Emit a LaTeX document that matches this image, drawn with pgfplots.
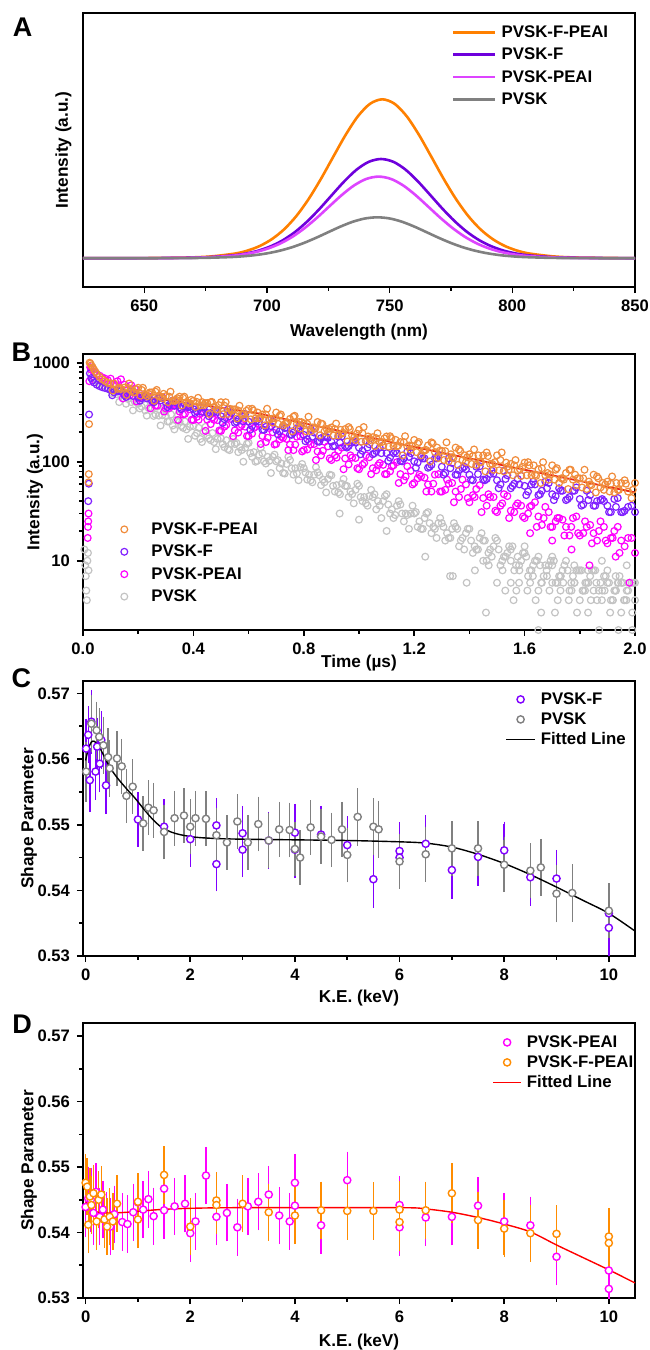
\documentclass[border=0pt]{standalone}
\usepackage{fontspec}
\setmainfont{Liberation Sans}
\usepackage{pgfplots}
\pgfplotsset{compat=1.18}
\definecolor{aOr}{RGB}{255,128,0}
\definecolor{aPu}{RGB}{110,0,220}
\definecolor{aMa}{RGB}{221,68,255}
\definecolor{aGr}{RGB}{128,128,128}
\definecolor{bOr}{RGB}{240,140,60}
\definecolor{bPu}{RGB}{128,32,255}
\definecolor{bMa}{RGB}{255,0,255}
\definecolor{bGr}{RGB}{195,195,195}
\definecolor{bFit}{RGB}{235,40,20}
\definecolor{cPu}{RGB}{128,0,255}
\definecolor{cGr}{RGB}{128,128,128}
\definecolor{dMa}{RGB}{255,0,255}
\definecolor{dOr}{RGB}{255,140,0}
\pgfplotsset{
  base/.style={
    scale only axis, anchor=north west,
    axis line style={line width=1pt},
    tick align=outside, tick pos=left,
    major tick length=3pt, minor tick length=1.8pt,
    tick style={line width=0.8pt, black},
    tick label style={font=\fontsize{8.3}{10}\selectfont\bfseries},
    label style={font=\fontsize{8.6}{10}\selectfont\bfseries},
    /pgf/number format/assume math mode=true,
    /pgf/number format/1000 sep={},
    xlabel style={anchor=center},
    ylabel style={anchor=center},
    legend cell align=left,
    legend style={draw=none, fill=none, inner sep=0pt, column sep=2.5pt,
      font=\fontsize{8.4}{10}\selectfont\bfseries,
      nodes={inner sep=0pt, text height=6.5pt, text depth=1.5pt}},
  }
}
\begin{document}
\begin{tikzpicture}
\path[use as bounding box] (0,0) rectangle (324.5pt,-675pt);
\node[font=\fontsize{13.5}{14}\selectfont\bfseries] at (11.25pt,-13.5pt) {A};
\node[font=\fontsize{13.5}{14}\selectfont\bfseries] at (10.75pt,-176pt) {B};
\node[font=\fontsize{13.5}{14}\selectfont\bfseries] at (10.75pt,-339pt) {C};
\node[font=\fontsize{13.5}{14}\selectfont\bfseries] at (11pt,-512pt) {D};

% ---------------- Panel A ----------------
\begin{axis}[base, at={(41.5pt,-6.5pt)}, width=276pt, height=137pt,
  xmin=625, xmax=850, ymin=-0.287, ymax=2.453,
  xtick={650,700,750,800,850}, minor x tick num=1, ytick=\empty,
  xlabel={Wavelength (nm)}, ylabel={Intensity (a.u.)},
  xlabel style={at={(axis description cs:0.5,-0.1642)}},
  ylabel style={at={(axis description cs:-0.0353,0.5)}},
  legend image code/.code={\draw[#1] (0pt,0pt) -- (21pt,0pt);},
  legend style={at={(axis description cs:0.668,0.96)}, anchor=north west, row sep=3.2pt},
]
\addplot[aOr, line width=1.3pt, smooth] coordinates {(625,0.0003) (627,0.0005) (647,0.0016) (667,0.0076) (677,0.0184) (687,0.0477) (692,0.0768) (697,0.1226) (702,0.1919) (707,0.2902) (712,0.4236) (717,0.5939) (722,0.795) (727,1.0151) (732,1.2321) (737,1.4186) (742,1.5452) (747,1.59) (752,1.5452) (757,1.4186) (762,1.2321) (767,1.0151) (772,0.795) (777,0.5939) (782,0.4236) (787,0.2902) (792,0.1919) (797,0.1226) (802,0.0768) (807,0.0477) (817,0.0184) (827,0.0076) (847,0.0016) (850,0.0012)};
\addlegendentry{PVSK-F-PEAI}
\addplot[aPu, line width=1.3pt, smooth] coordinates {(625,0.0002) (626.5,0.0003) (646.5,0.001) (666.5,0.0048) (676.5,0.0115) (686.5,0.0298) (691.5,0.048) (696.5,0.0766) (701.5,0.1199) (706.5,0.1812) (711.5,0.2645) (716.5,0.3709) (721.5,0.4965) (726.5,0.6339) (731.5,0.7695) (736.5,0.886) (741.5,0.965) (746.5,0.993) (751.5,0.965) (756.5,0.886) (761.5,0.7695) (766.5,0.6339) (771.5,0.4965) (776.5,0.3709) (781.5,0.2645) (786.5,0.1812) (791.5,0.1199) (796.5,0.0766) (801.5,0.048) (806.5,0.0298) (816.5,0.0115) (826.5,0.0048) (846.5,0.001) (850,0.0008)};
\addlegendentry{PVSK-F}
\addplot[aMa, line width=1.3pt, smooth] coordinates {(625,0.0002) (645.5,0.0008) (665.5,0.0039) (675.5,0.0095) (685.5,0.0245) (690.5,0.0395) (695.5,0.063) (700.5,0.0986) (705.5,0.1491) (710.5,0.2176) (715.5,0.3051) (720.5,0.4085) (725.5,0.5216) (730.5,0.6331) (735.5,0.7289) (740.5,0.794) (745.5,0.817) (750.5,0.794) (755.5,0.7289) (760.5,0.6331) (765.5,0.5216) (770.5,0.4085) (775.5,0.3051) (780.5,0.2176) (785.5,0.1491) (790.5,0.0986) (795.5,0.063) (800.5,0.0395) (805.5,0.0245) (815.5,0.0095) (825.5,0.0039) (845.5,0.0008) (850,0.0006)};
\addlegendentry{PVSK-PEAI}
\addplot[aGr, line width=1.3pt, smooth] coordinates {(625,0.0001) (645,0.0004) (665,0.002) (675,0.0048) (685,0.0123) (690,0.0198) (695,0.0316) (700,0.0495) (705,0.0748) (710,0.1092) (715,0.1531) (720,0.205) (725,0.2617) (730,0.3177) (735,0.3658) (740,0.3984) (745,0.41) (750,0.3984) (755,0.3658) (760,0.3177) (765,0.2617) (770,0.205) (775,0.1531) (780,0.1092) (785,0.0748) (790,0.0495) (795,0.0316) (800,0.0198) (805,0.0123) (815,0.0048) (825,0.002) (845,0.0004) (850,0.0003)};
\addlegendentry{PVSK}
\end{axis}

% ---------------- Panel B ----------------
\begin{axis}[base, at={(41.5pt,-177pt)}, width=276pt, height=138pt,
  ymode=log, xmin=0, xmax=2.0, ymin=2, ymax=1224,
  xtick={0,0.4,0.8,1.2,1.6,2.0}, minor x tick num=1,
  ytick={10,100,1000}, log ticks with fixed point,
  xticklabel style={/pgf/number format/.cd, fixed, fixed zerofill, precision=1},
  xlabel={Time (\textmu s)}, ylabel={Intensity (a.u.)},
  xlabel style={at={(axis description cs:0.5,-0.1196)}},
  ylabel style={at={(axis description cs:-0.087,0.5)}},
  legend image code/.code={\path[draw=none] (0pt,0pt) -- (10pt,0pt); \draw[#1, draw=none] plot coordinates {(5pt,0pt)};},
  legend style={at={(axis description cs:0.056,0.395)}, anchor=north west, row sep=3.2pt, column sep=8.5pt},
  every axis plot/.append style={only marks, mark=o, mark size=1.7pt, mark options={line width=0.6pt}},
]
\addlegendimage{only marks, mark=o, mark size=1.7pt, mark options={draw=bOr, line width=0.6pt}}
\addlegendentry{PVSK-F-PEAI}
\addlegendimage{only marks, mark=o, mark size=1.7pt, mark options={draw=bPu, line width=0.6pt}}
\addlegendentry{PVSK-F}
\addlegendimage{only marks, mark=o, mark size=1.7pt, mark options={draw=bMa, line width=0.6pt}}
\addlegendentry{PVSK-PEAI}
\addlegendimage{only marks, mark=o, mark size=1.7pt, mark options={draw=bGr, line width=0.6pt}}
\addlegendentry{PVSK}
% PVSK (gray)
\addplot[bGr, forget plot] coordinates {(0.005,13) (0.008,9) (0.01,7) (0.012,5) (0.014,4) (0.016,10) (0.018,12) (0.02,8) (0.03,760) (0.04,690) (0.05,650) (0.06,620) (0.075,590) (0.09,560)
(0.100,580) (0.125,478) (0.150,491) (0.175,400) (0.200,385) (0.225,330) (0.250,345) (0.275,292) (0.300,290) (0.325,232) (0.350,255) (0.375,212) (0.400,230) (0.425,170) (0.450,183) (0.475,158) (0.500,172) (0.525,134) (0.550,151) (0.575,131) (0.600,155) (0.625,100) (0.650,122) (0.675,102) (0.700,101) (0.725,77) (0.750,104) (0.775,76) (0.800,86) (0.825,65) (0.850,78) (0.875,62) (0.900,73) (0.925,49) (0.950,57) (0.975,47) (1.000,57) (1.025,38) (1.050,44) (1.075,36) (1.100,47) (1.125,27) (1.150,37) (1.175,29) (1.200,30) (1.225,21) (1.250,31) (1.275,21) (1.300,24) (1.325,17) (1.350,22) (1.375,17) (1.400,21) (1.425,13) (1.450,16) (1.475,13) (1.500,16) (1.525,11) (1.550,13) (1.575,11) (1.600,14) (1.625,8) (1.650,11) (1.675,9) (1.700,9) (1.725,7) (1.750,10) (1.775,7) (1.800,8) (1.825,6) (1.850,8) (1.875,6) (1.900,8) (1.925,5) (1.950,6) (1.975,5) (2.000,6)
(0.1125,505) (0.1375,470) (0.1625,430) (0.1875,405) (0.2125,360) (0.2375,350) (0.2625,300) (0.2875,295) (0.3125,255) (0.3375,262) (0.3625,220) (0.3875,225) (0.4125,195) (0.4375,200) (0.4625,165) (0.4875,170) (0.5125,140) (0.5375,152) (0.5625,125) (0.5875,138) (0.6125,112) (0.6375,118) (0.6625,96) (0.6875,112) (0.7125,86) (0.7375,95) (0.7625,74) (0.7875,88) (0.8125,66) (0.8375,74) (0.8625,58) (0.8875,67) (0.9125,50) (0.9375,60) (0.9625,44) (0.9875,52) (1.0125,40) (1.0375,45) (1.0625,33) (1.0875,40) (1.1125,30) (1.1375,36) (1.1625,25) (1.1875,30) (1.2125,22) (1.2375,27) (1.2625,19) (1.2875,24) (1.3125,16) (1.3375,21) (1.3625,14) (1.3875,19) (1.4125,12) (1.4375,17) (1.4625,10) (1.4875,14) (1.5125,9) (1.5375,12) (1.5625,8) (1.5875,10) (1.6125,7) (1.6375,10) (1.6625,6) (1.6875,9) (1.7125,6) (1.7375,8) (1.7625,5) (1.7875,8) (1.8125,5) (1.8375,7) (1.8625,4) (1.8875,7) (1.9125,4) (1.9375,6) (1.9625,4) (1.9875,6)
(0.106,491) (0.131,400) (0.156,385) (0.181,330) (0.206,345) (0.231,292) (0.256,290) (0.281,232) (0.306,255) (0.331,212) (0.356,230) (0.381,170) (0.406,183) (0.431,158) (0.456,172) (0.481,134) (0.506,151) (0.531,131) (0.556,155) (0.581,100) (0.606,122) (0.631,102) (0.656,101) (0.681,77) (0.706,104) (0.731,76) (0.756,86) (0.781,65) (0.806,78) (0.831,62) (0.856,73) (0.881,49) (0.906,57) (0.931,47) (0.956,57) (0.981,38) (1.006,44) (1.031,36) (1.056,47) (1.081,27) (1.106,37) (1.131,29) (1.156,30) (1.181,21) (1.206,31) (1.231,21) (1.256,24) (1.281,17) (1.306,22) (1.331,17) (1.356,21) (1.381,13) (1.406,16) (1.431,13) (1.456,16) (1.481,11) (1.506,13) (1.531,11) (1.556,14) (1.581,8) (1.606,11) (1.631,9) (1.656,9) (1.681,7) (1.706,10) (1.731,7) (1.756,8) (1.781,6) (1.806,8) (1.831,6) (1.856,8) (1.881,5) (1.906,6) (1.931,5) (1.956,6)
(0.169,505) (0.194,470) (0.219,430) (0.244,405) (0.269,360) (0.294,350) (0.319,300) (0.344,295) (0.369,255) (0.394,262) (0.419,220) (0.444,225) (0.469,195) (0.494,200) (0.519,165) (0.544,170) (0.569,140) (0.594,152) (0.619,125) (0.644,138) (0.669,112) (0.694,118) (0.719,96) (0.744,112) (0.769,86) (0.794,95) (0.819,74) (0.844,88) (0.869,66) (0.894,74) (0.919,58) (0.944,67) (0.969,50) (0.994,60) (1.019,44) (1.044,52) (1.069,40) (1.094,45) (1.119,33) (1.144,40) (1.169,30) (1.194,36) (1.219,25) (1.244,30) (1.269,22) (1.294,27) (1.319,19) (1.344,24) (1.369,16) (1.394,21) (1.419,14) (1.444,19) (1.469,12) (1.494,17) (1.519,10) (1.544,14) (1.569,9) (1.594,12) (1.619,8) (1.644,10) (1.669,7) (1.694,10) (1.719,6) (1.744,9) (1.769,6) (1.794,8) (1.819,5) (1.844,8) (1.869,5) (1.894,7) (1.919,4) (1.944,7) (1.969,4) (1.994,6)
(1.50,6) (1.55,6) (1.58,6) (1.62,6) (1.66,6) (1.70,6) (1.74,6) (1.78,6) (1.82,6) (1.86,6) (1.90,6) (1.94,6) (1.98,6)
(1.53,5) (1.57,5) (1.61,5) (1.65,5) (1.69,5) (1.73,5) (1.77,5) (1.81,5) (1.85,5) (1.89,5) (1.93,5) (1.97,5)
(1.56,4) (1.64,4) (1.72,4) (1.76,4) (1.80,4) (1.84,4) (1.88,4) (1.92,4) (1.96,4) (2.0,4)
(1.46,3) (1.66,3) (1.71,3) (1.79,3) (1.83,3) (1.91,3) (1.95,3) (1.99,3)
(1.65,2) (1.87,2) (1.94,2) (1.99,2)
(1.33,7) (1.42,8) (1.47,9) (1.52,8) (1.58,9) (1.63,7) (1.68,8) (1.73,7) (1.78,9) (1.83,8) (1.88,10) (1.93,7) (1.97,9) (1.45,10) (1.55,10) (1.60,12) (1.70,11) (1.24,11) (1.39,6) (1.34,7) (1.10,20) (1.0,26) (0.93,30)};
% PVSK-PEAI (magenta)
\addplot[bMa, forget plot] coordinates {(0.017,17) (0.018,22) (0.019,25) (0.02,30) (0.023,650) (0.026,900) (0.03,850) (0.04,800) (0.05,770) (0.06,740) (0.07,710) (0.08,690) (0.09,665)
(0.100,690) (0.125,650) (0.150,600) (0.175,592) (0.200,436) (0.225,469) (0.250,406) (0.275,446) (0.300,346) (0.325,369) (0.350,321) (0.375,366) (0.400,264) (0.425,304) (0.450,266) (0.475,265) (0.500,205) (0.525,280) (0.550,207) (0.575,235) (0.600,181) (0.625,225) (0.650,182) (0.675,219) (0.700,151) (0.725,175) (0.750,149) (0.775,179) (0.800,131) (0.825,149) (0.850,127) (0.875,159) (0.900,104) (0.925,129) (0.950,108) (0.975,110) (1.000,84) (1.025,116) (1.050,86) (1.075,97) (1.100,75) (1.125,92) (1.150,75) (1.175,90) (1.200,61) (1.225,71) (1.250,59) (1.275,74) (1.300,50) (1.325,60) (1.350,50) (1.375,66) (1.400,39) (1.425,53) (1.450,43) (1.475,44) (1.500,31) (1.525,47) (1.550,32) (1.575,38) (1.600,27) (1.625,36) (1.650,28) (1.675,35) (1.700,22) (1.725,27) (1.750,22) (1.775,27) (1.800,18) (1.825,22) (1.850,19) (1.875,25) (1.900,15) (1.925,20) (1.950,16) (1.975,17) (2.000,12)
(1.77,13) (1.835,9) (1.93,11) (1.98,6) (1.70,16) (1.62,19)
(0.1125,599) (0.1375,680) (0.1625,486) (0.1875,547) (0.2125,468) (0.2375,458) (0.2625,370) (0.2875,447) (0.3125,348) (0.3375,370) (0.3625,300) (0.3875,338) (0.4125,284) (0.4375,319) (0.4625,240) (0.4875,263) (0.5125,226) (0.5375,270) (0.5625,197) (0.5875,226) (0.6125,192) (0.6375,241) (0.6625,158) (0.6875,198) (0.7125,168) (0.7375,170) (0.7625,131) (0.7875,181) (0.8125,133) (0.8375,151) (0.8625,116) (0.8875,143) (0.9125,116) (0.9375,139) (0.9625,94) (0.9875,109) (1.0125,93) (1.0375,111) (1.0625,82) (1.0875,93) (1.1125,80) (1.1375,99) (1.1625,65) (1.1875,81) (1.2125,68) (1.2375,69) (1.2625,50) (1.2875,75) (1.3125,52) (1.3375,61) (1.3625,44) (1.3875,59) (1.4125,46) (1.4375,58) (1.4625,36) (1.4875,44) (1.5125,36) (1.5375,45) (1.5625,31) (1.5875,36) (1.6125,30) (1.6375,39) (1.6625,23) (1.6875,31) (1.7125,25) (1.7375,26) (1.7625,18) (1.7875,28) (1.8125,19) (1.8375,23) (1.8625,16) (1.8875,22) (1.9125,17) (1.9375,22) (1.9625,14) (1.9875,17)
(0.119,592) (0.144,436) (0.169,469) (0.194,406) (0.219,446) (0.244,346) (0.269,369) (0.294,321) (0.319,366) (0.344,264) (0.369,304) (0.394,266) (0.419,265) (0.444,205) (0.469,280) (0.494,207) (0.519,235) (0.544,181) (0.569,225) (0.594,182) (0.619,219) (0.644,151) (0.669,175) (0.694,149) (0.719,179) (0.744,131) (0.769,149) (0.794,127) (0.819,159) (0.844,104) (0.869,129) (0.894,108) (0.919,110) (0.944,84) (0.969,116) (0.994,86) (1.019,97) (1.044,75) (1.069,92) (1.094,75) (1.119,90) (1.144,61) (1.169,71) (1.194,59) (1.219,74) (1.244,50) (1.269,60) (1.294,50) (1.319,66) (1.344,39) (1.369,53) (1.394,43) (1.419,44) (1.444,31) (1.469,47) (1.494,32) (1.519,38) (1.544,27) (1.569,36) (1.594,28) (1.619,35) (1.644,22) (1.669,27) (1.694,22) (1.719,27) (1.744,18) (1.769,22) (1.794,19) (1.819,25) (1.844,15) (1.869,20) (1.894,16) (1.919,17) (1.944,12)};
% PVSK-F (purple)
\addplot[bPu, forget plot] coordinates {(0.019,40) (0.021,60) (0.022,300) (0.025,780) (0.03,700) (0.035,660) (0.04,630) (0.05,600) (0.06,580) (0.07,565) (0.08,555) (0.09,545)
(0.100,532) (0.125,523) (0.150,469) (0.175,514) (0.200,451) (0.225,462) (0.250,413) (0.275,436) (0.300,397) (0.325,415) (0.350,355) (0.375,367) (0.400,340) (0.425,355) (0.450,311) (0.475,319) (0.500,288) (0.525,336) (0.550,247) (0.575,288) (0.600,254) (0.625,256) (0.650,211) (0.675,263) (0.700,210) (0.725,229) (0.750,189) (0.775,219) (0.800,187) (0.825,214) (0.850,161) (0.875,179) (0.900,159) (0.925,179) (0.950,143) (0.975,156) (1.000,139) (1.025,162) (1.050,119) (1.075,139) (1.100,122) (1.125,122) (1.150,102) (1.175,127) (1.200,101) (1.225,112) (1.250,87) (1.275,108) (1.300,89) (1.325,108) (1.350,74) (1.375,86) (1.400,74) (1.425,89) (1.450,66) (1.475,75) (1.500,65) (1.525,81) (1.550,54) (1.575,67) (1.600,57) (1.625,59) (1.650,46) (1.675,63) (1.700,47) (1.725,54) (1.750,41) (1.775,51) (1.800,42) (1.825,51) (1.850,36) (1.875,41) (1.900,36) (1.925,42) (1.950,31) (1.975,35) (2.000,31)
(0.1125,502) (0.1375,517) (0.1625,479) (0.1875,502) (0.2125,439) (0.2375,451) (0.2625,418) (0.2875,444) (0.3125,375) (0.3375,396) (0.3625,365) (0.3875,359) (0.4125,322) (0.4375,353) (0.4625,310) (0.4875,317) (0.5125,269) (0.5375,311) (0.5625,266) (0.5875,303) (0.6125,230) (0.6375,254) (0.6625,225) (0.6875,255) (0.7125,203) (0.7375,221) (0.7625,197) (0.7875,230) (0.8125,169) (0.8375,197) (0.8625,173) (0.8875,174) (0.9125,145) (0.9375,180) (0.9625,144) (0.9875,156) (1.0125,129) (1.0375,150) (1.0625,128) (1.0875,146) (1.1125,110) (1.1375,122) (1.1625,108) (1.1875,122) (1.2125,98) (1.2375,108) (1.2625,93) (1.2875,116) (1.3125,77) (1.3375,97) (1.3625,82) (1.3875,84) (1.4125,65) (1.4375,90) (1.4625,67) (1.4875,76) (1.5125,59) (1.5375,73) (1.5625,60) (1.5875,72) (1.6125,50) (1.6375,59) (1.6625,51) (1.6875,61) (1.7125,45) (1.7375,51) (1.7625,44) (1.7875,55) (1.8125,37) (1.8375,46) (1.8625,40) (1.8875,40) (1.9125,31) (1.9375,43) (1.9625,32) (1.9875,36)
(0.106,469) (0.131,514) (0.156,451) (0.181,462) (0.206,413) (0.231,436) (0.256,397) (0.281,415) (0.306,355) (0.331,367) (0.356,340) (0.381,355) (0.406,311) (0.431,319) (0.456,288) (0.481,336) (0.506,247) (0.531,288) (0.556,254) (0.581,256) (0.606,211) (0.631,263) (0.656,210) (0.681,229) (0.706,189) (0.731,219) (0.756,187) (0.781,214) (0.806,161) (0.831,179) (0.856,159) (0.881,179) (0.906,143) (0.931,156) (0.956,139) (0.981,162) (1.006,119) (1.031,139) (1.056,122) (1.081,122) (1.106,102) (1.131,127) (1.156,101) (1.181,112) (1.206,87) (1.231,108) (1.256,89) (1.281,108) (1.306,74) (1.331,86) (1.356,74) (1.381,89) (1.406,66) (1.431,75) (1.456,65) (1.481,81) (1.506,54) (1.531,67) (1.556,57) (1.581,59) (1.606,46) (1.631,63) (1.656,47) (1.681,54) (1.706,41) (1.731,51) (1.756,42) (1.781,51) (1.806,36) (1.831,41) (1.856,36) (1.881,42) (1.906,31) (1.931,35) (1.956,31)};
% PVSK-F-PEAI (orange)
\addplot[bOr, forget plot] coordinates {(0.020,62) (0.021,75) (0.022,240) (0.024,1000) (0.027,980) (0.03,940) (0.035,900) (0.04,850) (0.045,810) (0.05,770) (0.06,720) (0.07,680) (0.08,650) (0.09,625)
(0.100,620) (0.125,545) (0.150,561) (0.175,523) (0.200,558) (0.225,473) (0.250,502) (0.275,464) (0.300,459) (0.325,413) (0.350,454) (0.375,400) (0.400,412) (0.425,370) (0.450,392) (0.475,358) (0.500,399) (0.525,304) (0.550,338) (0.575,302) (0.600,342) (0.625,274) (0.650,300) (0.675,268) (0.700,314) (0.725,233) (0.750,271) (0.775,241) (0.800,242) (0.825,203) (0.850,252) (0.875,203) (0.900,222) (0.925,185) (0.950,214) (0.975,184) (1.000,210) (1.025,160) (1.050,177) (1.075,159) (1.100,180) (1.125,144) (1.150,158) (1.175,142) (1.200,166) (1.225,116) (1.250,146) (1.275,125) (1.300,129) (1.325,101) (1.350,139) (1.375,104) (1.400,119) (1.425,93) (1.450,116) (1.475,95) (1.500,116) (1.525,80) (1.550,95) (1.575,82) (1.600,98) (1.625,73) (1.650,84) (1.675,73) (1.700,92) (1.725,61) (1.750,77) (1.775,66) (1.800,68) (1.825,53) (1.850,74) (1.875,55) (1.900,63) (1.925,49) (1.950,61) (1.975,50) (2.000,61)
(0.1125,616) (0.1375,542) (0.1625,558) (0.1875,501) (0.2125,531) (0.2375,485) (0.2625,510) (0.2875,438) (0.3125,454) (0.3375,422) (0.3625,442) (0.3875,390) (0.4125,402) (0.4375,373) (0.4625,399) (0.4875,337) (0.5125,368) (0.5375,327) (0.5625,329) (0.5875,275) (0.6125,343) (0.6375,275) (0.6625,300) (0.6875,249) (0.7125,291) (0.7375,251) (0.7625,285) (0.7875,217) (0.8125,241) (0.8375,215) (0.8625,243) (0.8875,196) (0.9125,214) (0.9375,192) (0.9625,224) (0.9875,166) (1.0125,194) (1.0375,172) (1.0625,173) (1.0875,145) (1.1125,181) (1.1375,144) (1.1625,158) (1.1875,132) (1.2125,153) (1.2375,129) (1.2625,157) (1.2875,109) (1.3125,128) (1.3375,111) (1.3625,133) (1.3875,99) (1.4125,114) (1.4375,99) (1.4625,124) (1.4875,83) (1.5125,104) (1.5375,89) (1.5625,92) (1.5875,72) (1.6125,99) (1.6375,74) (1.6625,86) (1.6875,66) (1.7125,83) (1.7375,68) (1.7625,83) (1.7875,58) (1.8125,68) (1.8375,59) (1.8625,71) (1.8875,52) (1.9125,60) (1.9375,52) (1.9625,65) (1.9875,43)
(0.108,523) (0.133,558) (0.158,473) (0.183,502) (0.208,464) (0.233,459) (0.258,413) (0.283,454) (0.308,400) (0.333,412) (0.358,370) (0.383,392) (0.408,358) (0.433,399) (0.458,304) (0.483,338) (0.508,302) (0.533,342) (0.558,274) (0.583,300) (0.608,268) (0.633,314) (0.658,233) (0.683,271) (0.708,241) (0.733,242) (0.758,203) (0.783,252) (0.808,203) (0.833,222) (0.858,185) (0.883,214) (0.908,184) (0.933,210) (0.958,160) (0.983,177) (1.008,159) (1.033,180) (1.058,144) (1.083,158) (1.108,142) (1.133,166) (1.158,116) (1.183,146) (1.208,125) (1.233,129) (1.258,101) (1.283,139) (1.308,104) (1.333,119) (1.358,93) (1.383,116) (1.408,95) (1.433,116) (1.458,80) (1.483,95) (1.508,82) (1.533,98) (1.558,73) (1.583,84) (1.608,73) (1.633,92) (1.658,61) (1.683,77) (1.708,66) (1.733,68) (1.758,53) (1.783,74) (1.808,55) (1.833,63) (1.858,49) (1.883,61) (1.908,50) (1.933,61)
(0.167,616) (0.192,542) (0.217,558) (0.242,501) (0.267,531) (0.292,485) (0.317,510) (0.342,438) (0.367,454) (0.392,422) (0.417,442) (0.442,390) (0.467,402) (0.492,373) (0.517,399) (0.542,337) (0.567,368) (0.592,327) (0.617,329) (0.642,275) (0.667,343) (0.692,275) (0.717,300) (0.742,249) (0.767,291) (0.792,251) (0.817,285) (0.842,217) (0.867,241) (0.892,215) (0.917,243) (0.942,196) (0.967,214) (0.992,192) (1.017,224) (1.042,166) (1.067,194) (1.092,172) (1.117,173) (1.142,145) (1.167,181) (1.192,144) (1.217,158) (1.242,132) (1.267,153) (1.292,129) (1.317,157) (1.342,109) (1.367,128) (1.392,111) (1.417,133) (1.442,99) (1.467,114) (1.492,99) (1.517,124) (1.542,83) (1.567,104) (1.592,89) (1.617,92) (1.642,72) (1.667,99) (1.692,74) (1.717,86) (1.742,66) (1.767,83) (1.792,68) (1.817,83) (1.842,58) (1.867,68) (1.892,59) (1.917,71) (1.942,52) (1.967,60) (1.992,52)};
% fit
\addplot[bFit, line width=0.9pt, no marks, sharp plot, forget plot] coordinates {(0.018,910) (0.03,800) (0.054,643) (0.08,580) (0.103,540) (0.15,500) (0.224,454) (0.344,403) (0.465,362) (0.634,308) (0.8,245) (1.0,186) (1.2,141) (1.4,108) (1.6,83) (1.8,64) (2.0,49)};
\end{axis}

% ---------------- Panel C ----------------
\begin{axis}[base, at={(41.5pt,-340.5pt)}, width=276pt, height=137.5pt,
  xmin=-0.05, xmax=10.5, ymin=0.53, ymax=0.5719,
  xtick={0,2,4,6,8,10}, minor x tick num=1,
  ytick={0.53,0.54,0.55,0.56,0.57}, minor y tick num=1,
  yticklabel style={/pgf/number format/.cd, fixed, fixed zerofill, precision=2},
  xlabel={K.E. (keV)}, ylabel={Shape Parameter},
  xlabel style={at={(axis description cs:0.5,-0.1527)}},
  ylabel style={at={(axis description cs:-0.0978,0.5)}},
  legend image code/.code={\path[draw=none] (0pt,0pt) -- (14.5pt,0pt); \draw[#1, draw=none] plot coordinates {(7.25pt,0pt)};},
  legend style={at={(axis description cs:0.7645,0.9636)}, anchor=north west, row sep=2pt},
]
\addlegendimage{only marks, mark=*, mark size=1.8pt, mark options={fill=white, draw=cPu, line width=0.7pt}}
\addlegendentry{PVSK-F}
\addlegendimage{only marks, mark=*, mark size=1.8pt, mark options={fill=white, draw=cGr, line width=0.7pt}}
\addlegendentry{PVSK}
\addlegendimage{legend image code/.code={\draw[black, line width=0.7pt] (0pt,0pt) -- (14.5pt,0pt);}}
\addlegendentry{Fitted Line}
\addplot[only marks, mark=*, mark size=1.8pt, mark options={fill=white, draw=cPu, line width=0.7pt}, forget plot,
  error bars/.cd, y dir=both, y explicit, error bar style={line width=0.7pt, cPu}, error mark options={line width=0.7pt, mark size=1.2pt, cPu}]
  table[x=x, y=y, y error=e] {
x y e
0.01 0.5616 0.0042
0.05 0.5637 0.004
0.08 0.5568 0.0045
0.11 0.5657 0.0045
0.19 0.5581 0.004
0.22 0.5619 0.004
0.27 0.5593 0.004
0.30 0.5629 0.004
0.39 0.5560 0.004
1.0 0.5508 0.0038
1.5 0.5497 0.0038
2.0 0.5478 0.0038
2.5 0.5499 0.0038
2.5 0.5440 0.0038
3.0 0.5487 0.0038
3.0 0.5462 0.0038
3.5 0.5476 0.004
4.0 0.5488 0.004
4.0 0.5462 0.004
4.5 0.5485 0.004
5.0 0.5469 0.004
5.5 0.5417 0.004
6.0 0.5460 0.004
6.0 0.5450 0.004
6.5 0.5471 0.004
7.0 0.5431 0.004
7.5 0.5451 0.004
8.0 0.5461 0.004
8.5 0.5420 0.004
9.0 0.5418 0.004
10.0 0.5365 0.004
10.0 0.5343 0.004
};
\addplot[only marks, mark=*, mark size=1.8pt, mark options={fill=white, draw=cGr, line width=0.7pt}, forget plot,
  error bars/.cd, y dir=both, y explicit, error bar style={line width=0.7pt, cGr}, error mark options={line width=0.7pt, mark size=1.2pt, cGr}]
  table[x=x, y=y, y error=e] {
x y e
0.01 0.5581 0.0042
0.11 0.5654 0.004
0.21 0.5644 0.004
0.26 0.5634 0.004
0.34 0.5621 0.004
0.43 0.5603 0.004
0.46 0.5586 0.004
0.60 0.5601 0.0038
0.69 0.5589 0.0038
0.78 0.5544 0.0038
0.90 0.5558 0.0038
1.10 0.5502 0.0038
1.20 0.5526 0.0038
1.30 0.5522 0.0038
1.50 0.5489 0.0038
1.70 0.5510 0.0038
1.88 0.5514 0.0038
2.00 0.5497 0.0038
2.10 0.5510 0.0038
2.30 0.5509 0.0038
2.50 0.5484 0.0038
2.70 0.5473 0.0038
2.90 0.5505 0.0038
3.10 0.5473 0.0038
3.30 0.5501 0.0038
3.50 0.5476 0.0038
3.70 0.5493 0.0038
3.90 0.5492 0.0038
4.00 0.5463 0.0038
4.10 0.5450 0.0038
4.30 0.5496 0.0038
4.50 0.5482 0.0038
4.70 0.5477 0.0038
4.90 0.5493 0.0038
5.00 0.5454 0.0038
5.20 0.5512 0.004
5.50 0.5497 0.004
5.60 0.5493 0.004
6.00 0.5444 0.0038
6.50 0.5455 0.0038
7.00 0.5464 0.0038
7.50 0.5464 0.0038
8.00 0.5439 0.0038
8.50 0.5430 0.0038
8.70 0.5435 0.004
9.00 0.5395 0.004
9.30 0.5396 0.004
10.00 0.5369 0.0038
};
\addplot[black, line width=0.7pt, smooth, no marks, forget plot] coordinates {(0,0.5598) (0.05,0.5615) (0.11,0.5626) (0.17,0.5627) (0.25,0.5620) (0.35,0.5605) (0.46,0.5588) (0.6,0.5572) (0.78,0.5555) (0.95,0.5540) (1.1,0.5525) (1.25,0.5511) (1.42,0.5498) (1.6,0.5490) (1.8,0.5485) (2.1,0.5481) (2.5,0.5479) (3,0.5478) (4,0.5477) (5,0.5476) (6,0.5474) (6.5,0.5472) (7,0.5466) (7.5,0.5455) (8,0.5441) (8.5,0.5424) (9,0.5405) (9.5,0.5385) (10,0.5365) (10.5,0.5338)};
\end{axis}

% ---------------- Panel D ----------------
\begin{axis}[base, at={(41.5pt,-511.5pt)}, width=276pt, height=137.5pt,
  xmin=-0.05, xmax=10.5, ymin=0.53, ymax=0.572,
  xtick={0,2,4,6,8,10}, minor x tick num=1,
  ytick={0.53,0.54,0.55,0.56,0.57}, minor y tick num=1,
  yticklabel style={/pgf/number format/.cd, fixed, fixed zerofill, precision=2},
  xlabel={K.E. (keV)}, ylabel={Shape Parameter},
  xlabel style={at={(axis description cs:0.5,-0.16)}},
  ylabel style={at={(axis description cs:-0.0978,0.5)}},
  legend image code/.code={\path[draw=none] (0pt,0pt) -- (14pt,0pt); \draw[#1, draw=none] plot coordinates {(7pt,0pt)};},
  legend style={at={(axis description cs:0.741,0.96)}, anchor=north west, row sep=2pt},
]
\addlegendimage{only marks, mark=*, mark size=1.8pt, mark options={fill=white, draw=dMa, line width=0.7pt}}
\addlegendentry{PVSK-PEAI}
\addlegendimage{only marks, mark=*, mark size=1.8pt, mark options={fill=white, draw=dOr, line width=0.7pt}}
\addlegendentry{PVSK-F-PEAI}
\addlegendimage{legend image code/.code={\draw[red, line width=0.7pt] (0pt,0pt) -- (14pt,0pt);}}
\addlegendentry{Fitted Line}
\addplot[only marks, mark=*, mark size=1.8pt, mark options={fill=white, draw=dMa, line width=0.7pt}, forget plot,
  error bars/.cd, y dir=both, y explicit, error bar style={line width=0.7pt, dMa}, error mark options={line width=0.7pt, mark size=1.2pt, dMa}]
  table[x=x, y=y, y error=e] {
x y e
0.00 0.5439 0.0042
0.05 0.5452 0.0045
0.10 0.5450 0.0045
0.15 0.5430 0.0045
0.20 0.5462 0.004
0.27 0.5424 0.004
0.33 0.5435 0.004
0.40 0.5418 0.004
0.47 0.5409 0.004
0.55 0.5428 0.004
0.70 0.5416 0.004
0.80 0.5413 0.004
0.91 0.5431 0.004
1.00 0.5446 0.004
1.10 0.5435 0.004
1.20 0.5451 0.004
1.30 0.5425 0.004
1.50 0.5467 0.004
1.50 0.5434 0.004
1.70 0.5440 0.004
1.90 0.5444 0.004
2.00 0.5399 0.004
2.10 0.5417 0.004
2.30 0.5487 0.004
2.50 0.5424 0.004
2.70 0.5430 0.004
2.90 0.5408 0.004
3.10 0.5440 0.004
3.30 0.5447 0.004
3.50 0.5458 0.004
3.70 0.5426 0.004
3.90 0.5417 0.004
4.00 0.5476 0.004
4.00 0.5441 0.004
4.50 0.5411 0.004
5.00 0.5480 0.004
6.00 0.5442 0.004
6.00 0.5408 0.004
6.50 0.5423 0.004
7.00 0.5424 0.004
7.50 0.5441 0.004
8.00 0.5417 0.004
8.50 0.5411 0.004
9.00 0.5363 0.004
10.00 0.5342 0.004
10.00 0.5314 0.004
};
\addplot[only marks, mark=*, mark size=1.8pt, mark options={fill=white, draw=dOr, line width=0.7pt}, forget plot,
  error bars/.cd, y dir=both, y explicit, error bar style={line width=0.7pt, dOr}, error mark options={line width=0.7pt, mark size=1.2pt, dOr}]
  table[x=x, y=y, y error=e] {
x y e
0.00 0.5476 0.004
0.03 0.5470 0.004
0.05 0.5412 0.004
0.08 0.5455 0.004
0.11 0.5442 0.004
0.15 0.5460 0.004
0.21 0.5417 0.004
0.25 0.5450 0.004
0.30 0.5458 0.004
0.36 0.5420 0.004
0.41 0.5409 0.004
0.46 0.5424 0.004
0.52 0.5417 0.004
0.60 0.5444 0.004
1.00 0.5447 0.004
1.00 0.5420 0.004
1.50 0.5488 0.004
2.00 0.5409 0.004
2.50 0.5449 0.004
2.50 0.5442 0.004
3.00 0.5444 0.004
3.50 0.5431 0.004
4.00 0.5426 0.004
4.50 0.5434 0.004
5.00 0.5433 0.004
5.50 0.5433 0.004
6.00 0.5435 0.004
6.00 0.5416 0.004
6.50 0.5434 0.004
7.00 0.5460 0.0042
7.50 0.5419 0.004
8.00 0.5406 0.004
8.50 0.5399 0.004
9.00 0.5398 0.004
10.00 0.5394 0.004
10.00 0.5384 0.004
};
\addplot[red, line width=0.7pt, smooth, no marks, forget plot] coordinates {(0,0.5447) (0.05,0.5442) (0.1,0.5437) (0.2,0.5432) (0.3,0.5430) (0.5,0.5430) (0.8,0.5431) (1.4,0.5435) (2,0.5437) (3,0.5438) (6,0.5438) (6.5,0.5436) (7,0.5431) (7.5,0.5423) (8,0.5413) (8.5,0.5401) (9,0.5381) (9.5,0.5362) (10,0.5343) (10.5,0.5323)};
\end{axis}
\end{tikzpicture}
\end{document}
